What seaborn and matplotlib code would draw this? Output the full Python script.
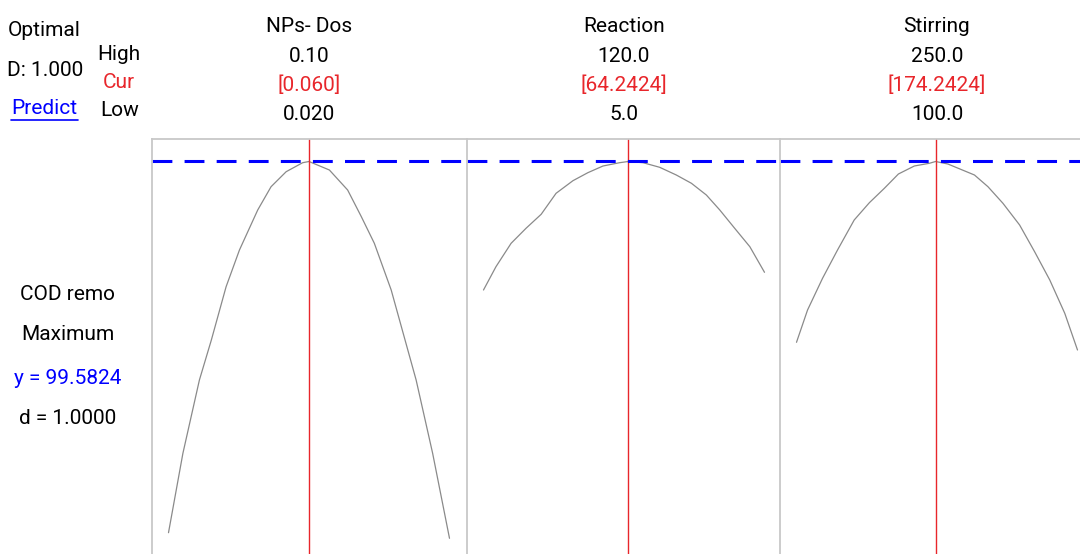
import numpy as np
import pandas as pd
import matplotlib.pyplot as plt
import seaborn as sns
from matplotlib.lines import Line2D

# --------------------
# Data
# --------------------
factors = ["NPs- Dos", "Reaction", "Stirring"]
high = [0.10, 120.0, 250.0]
low = [0.020, 5.0, 100.0]
cur = [0.060, 64.2424, 174.2424]
high_lbl = ["0.10", "120.0", "250.0"]
cur_lbl = ["[0.060]", "[64.2424]", "[174.2424]"]
low_lbl = ["0.020", "5.0", "100.0"]

y_opt = 99.5824
d_val = 1.0000

dos_x = [0.020, 0.0241, 0.0288, 0.0322, 0.0364, 0.0402, 0.0454, 0.0492, 0.0535,
         0.0582, 0.060, 0.0658, 0.0710, 0.0749, 0.0786, 0.0834, 0.0905, 0.0952, 0.100]
dos_y = [62.46, 70.40, 77.73, 81.73, 87.06, 90.73, 94.73, 97.06, 98.56,
         99.46, 99.58, 98.73, 96.73, 94.06, 91.40, 86.73, 77.73, 70.40, 61.90]

react_x = [5.0, 10.1, 16.3, 22.4, 28.6, 34.7, 41.6, 47.7, 53.9, 60.7, 64.2424,
           70.3, 77.1, 83.9, 90.1, 96.2, 101.7, 107.8, 114.0, 120.0]
react_y = [86.73, 89.06, 91.40, 92.90, 94.30, 96.40, 97.66, 98.46, 99.13, 99.46, 99.58,
           99.46, 99.00, 98.23, 97.40, 96.23, 94.73, 92.90, 91.06, 88.50]

stir_x = [100.0, 105.9, 113.9, 121.9, 130.8, 138.9, 146.9, 154.4, 162.9, 170.9, 174.2424,
          180.8, 195.0, 202.2, 210.2, 219.1, 227.1, 235.2, 243.2, 250.0]
stir_y = [81.50, 84.73, 87.90, 90.73, 93.73, 95.46, 96.90, 98.33, 99.13, 99.40, 99.58,
          99.33, 98.23, 97.06, 95.40, 93.23, 90.56, 87.73, 84.40, 80.73]

curves = [(dos_x, dos_y), (react_x, react_y), (stir_x, stir_y)]

# --------------------
# Style
# --------------------
sns.set_style("white")
plt.rcParams["font.family"] = ["Roboto", "DejaVu Sans"]
plt.rcParams["text.color"] = "black"

W, H = 1080, 554
fig = plt.figure(figsize=(W / 100, H / 100), dpi=100)

RED = "#e8262b"
BLUE = "#0000ff"
GRID = "#c8c8c8"
FS = 15

def fx(px):
    return px / W

def fy(py):
    return 1 - py / H

# panel geometry in pixels
panel_left = [152, 467, 780]
panel_w = [315, 313, 315]
top_px = 139
pad_px, inner_px = 16.5, 281
ylo, yhi = 60.33, 101.83

for i, (xs, ys) in enumerate(curves):
    ax = fig.add_axes([fx(panel_left[i]), 0, fx(panel_w[i]), fy(top_px)])
    span = high[i] - low[i]
    ax.set_xlim(low[i] - span * pad_px / inner_px,
                low[i] + span * (panel_w[i] - pad_px) / inner_px)
    ax.set_ylim(ylo, yhi)
    df = pd.DataFrame({"x": xs, "y": ys})
    sns.lineplot(data=df, x="x", y="y", ax=ax, color="#8a8a8a", lw=0.9,
                 sort=False, estimator=None)
    ax.axvline(cur[i], color=RED, lw=1.0)
    ax.axhline(y_opt, color=BLUE, lw=2.2, dashes=(6.5, 4.0))
    ax.set_xticks([]); ax.set_yticks([])
    ax.set_xlabel(""); ax.set_ylabel("")
    for s in ["bottom", "right"]:
        ax.spines[s].set_visible(False)
    for s in ["left", "top"]:
        ax.spines[s].set_color(GRID)
        ax.spines[s].set_linewidth(1.3)

    cx = fx(panel_left[i] + pad_px + inner_px / 2)
    fig.text(cx, fy(26), factors[i], ha="center", va="center", fontsize=FS)
    fig.text(cx, fy(56), high_lbl[i], ha="center", va="center", fontsize=FS)
    fig.text(cx, fy(85), cur_lbl[i], ha="center", va="center", fontsize=FS, color=RED)
    fig.text(cx, fy(114), low_lbl[i], ha="center", va="center", fontsize=FS)

# left header block
fig.text(fx(44), fy(31), "Optimal", ha="center", va="center", fontsize=FS)
fig.text(fx(45), fy(70), "D: 1.000", ha="center", va="center", fontsize=FS)
fig.text(fx(44), fy(108), "Predict", ha="center", va="center", fontsize=FS, color=BLUE)
fig.add_artist(Line2D([fx(11), fx(78)], [fy(120), fy(120)], color=BLUE, lw=1.2))
fig.text(fx(119), fy(54), "High", ha="center", va="center", fontsize=FS)
fig.text(fx(119), fy(83), "Cur", ha="center", va="center", fontsize=FS, color=RED)
fig.text(fx(120), fy(111), "Low", ha="center", va="center", fontsize=FS)

# response block
fig.text(fx(68), fy(294), "COD remo", ha="center", va="center", fontsize=FS)
fig.text(fx(68), fy(335), "Maximum", ha="center", va="center", fontsize=FS)
fig.text(fx(68), fy(378), f"y = {y_opt:.4f}", ha="center", va="center", fontsize=FS, color=BLUE)
fig.text(fx(68), fy(418), f"d = {d_val:.4f}", ha="center", va="center", fontsize=FS)

fig.savefig("out.png", dpi=100)
